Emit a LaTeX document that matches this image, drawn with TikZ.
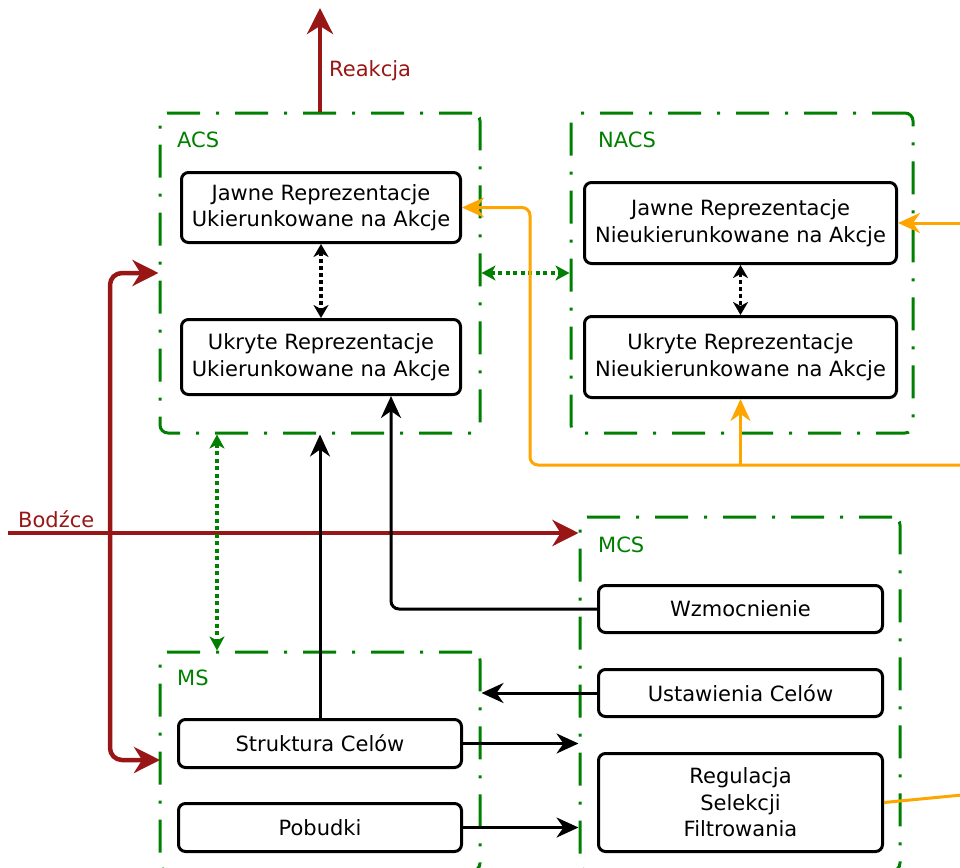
\documentclass[tikz,border=0pt]{standalone}
\usepackage{fontspec}
\setmainfont{DejaVu Sans}
\usetikzlibrary{arrows.meta}
\definecolor{dred}{RGB}{153,22,22}
\definecolor{dgreen}{RGB}{0,128,0}
\definecolor{orng}{RGB}{255,165,0}
\newcommand\dfont{\fontsize{21}{26.5}\selectfont}
\tikzset{
  grp/.style={draw=dgreen, line width=3pt, dash pattern=on 33pt off 16pt on 3pt off 16pt, rounded corners=8pt, inner sep=0pt},
  rbox/.style={draw=black, line width=3pt, rounded corners=7pt, align=center, font=\dfont, inner sep=0pt},
  glabel/.style={text=dgreen, font=\dfont, inner sep=0pt, anchor=base west},
  rlabel/.style={text=dred, font=\dfont, inner sep=0pt, anchor=base west},
  redarr/.style={draw=dred, line width=4.5pt, rounded corners=12pt, -{Stealth[length=26pt,width=26pt,inset=8pt]}},
  redarrtwo/.style={draw=dred, line width=4.5pt, rounded corners=12pt, {Stealth[length=26pt,width=26pt,inset=8pt]}-{Stealth[length=26pt,width=26pt,inset=8pt]}},
  blkarr/.style={draw=black, line width=3pt, rounded corners=8pt, -{Stealth[length=22pt,width=20pt,inset=7pt]}},
  orarr/.style={draw=orng, line width=3pt, rounded corners=8pt, -{Stealth[length=22pt,width=20pt,inset=7pt]}},
  orline/.style={draw=orng, line width=3pt},
  gdot/.style={draw=dgreen, line width=4pt, dash pattern=on 4pt off 3.5pt, {Stealth[length=14pt,width=15pt,inset=4pt]}-{Stealth[length=14pt,width=15pt,inset=4pt]}},
  kdot/.style={draw=black, line width=3.5pt, dash pattern=on 3.5pt off 3.5pt, {Stealth[length=13pt,width=15pt,inset=4pt]}-{Stealth[length=13pt,width=15pt,inset=4pt]}},
}
\begin{document}
\begin{tikzpicture}[x=1pt,y=-1pt]
\useasboundingbox (0,0) rectangle (960,867);

% groups
\node[grp, minimum width=320pt, minimum height=320pt] (acs) at (320,273) {};
\node[grp, minimum width=342pt, minimum height=320pt] (nacs) at (742,273) {};
\node[grp, minimum width=320pt, minimum height=219pt] (ms) at (320,761.5) {};
\node[grp, minimum width=320pt, minimum height=354pt] (mcs) at (740,694) {};

\node[glabel] (lacs) at (177,147) {ACS};
\node[glabel] (lnacs) at (598,147) {NACS};
\node[glabel] (lms) at (177,685) {MS};
\node[glabel] (lmcs) at (598,552) {MCS};

% inner boxes
\node[rbox, minimum width=279pt, minimum height=70pt] (aj) at (321,207.5) {Jawne Reprezentacje\\Ukierunkowane na Akcje};
\node[rbox, minimum width=279pt, minimum height=75pt] (au) at (321,357) {Ukryte Reprezentacje\\Ukierunkowane na Akcje};
\node[rbox, minimum width=312pt, minimum height=81pt] (nj) at (740.5,223) {Jawne Reprezentacje\\Nieukierunkowane na Akcje};
\node[rbox, minimum width=312pt, minimum height=81pt] (nu) at (740.5,357) {Ukryte Reprezentacje\\Nieukierunkowane na Akcje};
\node[rbox, minimum width=284pt, minimum height=47pt] (wz) at (740.5,609) {Wzmocnienie};
\node[rbox, minimum width=284pt, minimum height=47pt] (uc) at (740.5,693) {Ustawienia Celów};
\node[rbox, minimum width=284pt, minimum height=98pt] (rsf) at (740.5,802.5) {Regulacja\\Selekcji\\Filtrowania};
\node[rbox, minimum width=283pt, minimum height=48pt] (sc) at (320,743.5) {Struktura Celów};
\node[rbox, minimum width=283pt, minimum height=48pt] (pb) at (320,827.5) {Pobudki};

% red connectors
\coordinate (rtop) at (320,8);
\draw[redarr] (acs.north) -- (rtop);
\node[rlabel] (lreak) at (329,76) {Reakcja};
\coordinate (bin) at (8,533);
\draw[redarr] (bin) -- (bin -| mcs.west);
\node[rlabel] (lbodz) at (18,527) {Bodźce};
\coordinate (rv) at (110,0);
\coordinate (msw) at (160,760);
\draw[redarrtwo] (acs.west) -- (acs.west -| rv) -- (msw -| rv) -- (msw);

% dotted
\draw[gdot] (acs.east) -- (nacs.west);
\coordinate (gv) at (217,0);
\draw[gdot] (acs.south -| gv) -- (ms.north -| gv);
\draw[kdot] (aj.south) -- (au.north);
\draw[kdot] (nj.south) -- (nu.north);

% black
\draw[blkarr] (sc.north) -- (acs.south);
\coordinate (bk) at (391,0);
\draw[blkarr] (wz.west) -- (wz.west -| bk) -- (au.south -| bk);
\draw[blkarr] (uc.west) -- (uc.west -| ms.east);
\draw[blkarr] (sc.east) -- (sc.east -| mcs.west);
\draw[blkarr] (pb.east) -- (pb.east -| mcs.west);

% orange
\coordinate (o1) at (962,465);
\coordinate (oc) at (530,465);
\draw[orarr] (o1) -- (oc) |- (aj.east);
\draw[orarr] (nu.south |- oc) -- (nu.south);
\coordinate (o2) at (962,223);
\draw[orarr] (o2) -- (nj.east);
\coordinate (o3) at (962,795);
\draw[orline] (rsf.east) -- (o3);
\end{tikzpicture}
\end{document}
